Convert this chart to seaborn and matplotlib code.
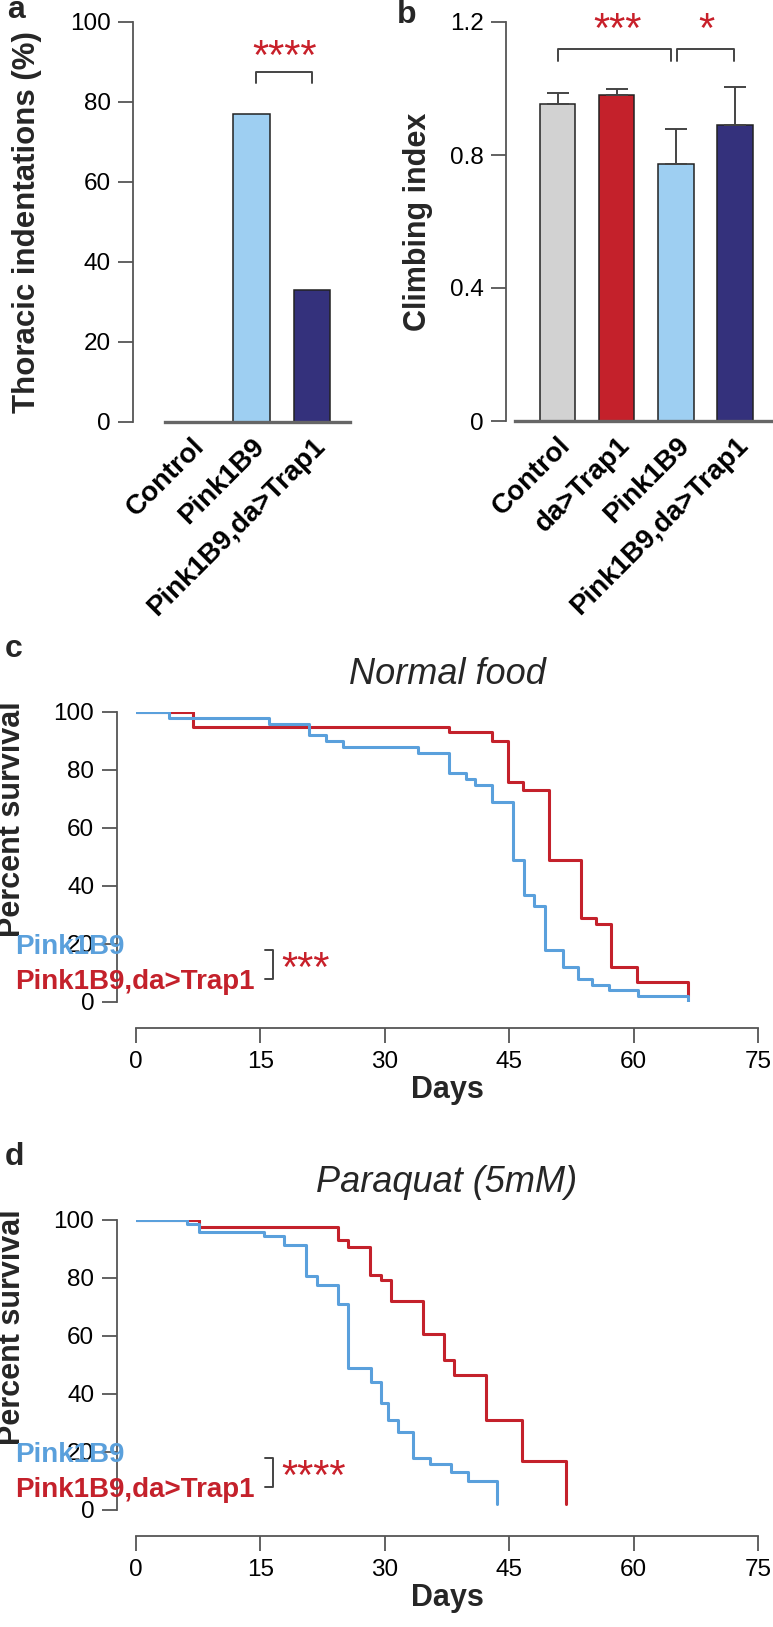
import numpy as np
import pandas as pd
import matplotlib
matplotlib.use("Agg")
import matplotlib.pyplot as plt
import seaborn as sns

# ---- data -------------------------------------------------------------
a_groups = ["Control", "Pink1B9", "Pink1B9,da>Trap1"]
a_values = [0, 77, 33]

b_groups = ["Control", "da>Trap1", "Pink1B9", "Pink1B9,da>Trap1"]
b_values = [0.952, 0.979, 0.772, 0.889]
b_err = [0.033, 0.018, 0.105, 0.117]

# Kaplan-Meier steps, normal food
c_blue_days = [0, 4.0, 16.0, 20.8, 22.9, 24.9, 34.0, 37.7, 39.8, 40.9, 42.9, 45.4,
               46.8, 48.0, 49.3, 51.5, 53.3, 55.0, 57.0, 60.5, 66.6, 66.6]
c_blue_surv = [100, 98, 96, 92, 90, 88, 86, 79, 77, 75, 69, 49,
               37, 33, 18, 12, 8, 6, 4, 2, 2, 0]
c_red_days = [0, 6.9, 37.8, 42.9, 44.8, 46.7, 49.8, 53.7, 55.5, 57.3, 60.4, 66.6, 66.6]
c_red_surv = [100, 95, 93, 90, 76, 73, 49, 29, 27, 12, 7, 7, 2]

# Kaplan-Meier steps, paraquat 5mM
d_blue_days = [0, 6.2, 7.6, 15.4, 17.8, 20.5, 21.8, 24.3, 25.6, 28.3, 29.5, 30.4,
               31.6, 33.4, 35.5, 38.0, 40.0, 43.5, 43.5]
d_blue_surv = [100, 98.7, 95.8, 94.6, 91.5, 80.6, 77.7, 71, 49, 44, 37, 31,
               27, 18, 16, 13, 10, 10, 2]
d_red_days = [0, 7.6, 24.3, 25.6, 28.2, 29.5, 30.8, 34.6, 37.1, 38.4, 42.2, 46.6, 51.8, 51.8]
d_red_surv = [100, 97.7, 93, 90.8, 81.2, 79.2, 72, 60.7, 51.7, 46.7, 31, 17, 17, 2]

day_ticks = [0, 15, 30, 45, 60, 75]
pct_ticks = [0, 20, 40, 60, 80, 100]

# ---- style ------------------------------------------------------------
sns.set_style("ticks")
plt.rcParams["font.family"] = ["Liberation Sans", "DejaVu Sans"]

LIGHT = "#9ecff2"
NAVY = "#34317c"
GREY = "#d2d2d2"
RED = "#c4212b"
CBLUE = "#5aa0dc"
STAR = "#c8202a"
AX = "#555555"

W, H = 773, 1627
fig = plt.figure(figsize=(W / 100, H / 100), dpi=100)


def rect(l, t, r, b):
    return [l / W, 1 - b / H, (r - l) / W, (b - t) / H]


def style_axis(ax):
    for s in ["top", "right"]:
        ax.spines[s].set_visible(False)
    for s in ["left", "bottom"]:
        ax.spines[s].set_color(AX)
        ax.spines[s].set_linewidth(1.3)
    ax.tick_params(axis="both", colors=AX, width=1.3, length=11,
                   labelsize=17.5, labelcolor="black", pad=5)


def bracket(ax, x0, x1, y, leg):
    ax.plot([x0, x0, x1, x1], [y - leg, y, y, y - leg], color="#444444",
            lw=1.4, clip_on=False)


# ---- panel a ------------------------------------------------------------
ax = fig.add_axes(rect(133, 22, 350, 422))
da = pd.DataFrame({"group": a_groups, "value": a_values})
sns.barplot(data=da, x="group", y="value", hue="group",
            palette=["white", LIGHT, NAVY], width=0.6, edgecolor="#222222",
            linewidth=1.1, saturation=1, legend=False, ax=ax)
style_axis(ax)
ax.set_xlim(-0.96, 2.63)
ax.set_ylim(0, 100)
ax.set_yticks(pct_ticks)
ax.spines["bottom"].set_bounds(-0.43, 2.63)
ax.spines["bottom"].set_linewidth(2.4)
ax.spines["bottom"].set_color("#666666")
ax.tick_params(axis="x", length=0, pad=8)
ax.set_xticks(range(3))
ax.set_xticklabels(a_groups, rotation=45, ha="right", rotation_mode="anchor",
                   fontsize=20, fontweight="bold")
ax.set_xlabel("")
ax.set_ylabel("Thoracic indentations (%)", fontsize=22.5, fontweight="bold", labelpad=20)
bracket(ax, 1.08, 2.0, 87.5, 2.8)
ax.text(1.54, 91, "****", color=STAR, fontsize=30, ha="center", va="center")
fig.text(7 / W, 1 - 18 / H, "a", fontsize=23, fontweight="bold")

# ---- panel b ------------------------------------------------------------
ax = fig.add_axes(rect(506, 22, 773, 421))
db = pd.DataFrame({"group": b_groups, "value": b_values})
sns.barplot(data=db, x="group", y="value", hue="group",
            palette=[GREY, RED, LIGHT, NAVY], width=0.6, edgecolor="#222222",
            linewidth=1.1, saturation=1, legend=False, ax=ax)
ax.errorbar(range(4), b_values, yerr=[np.zeros(4), b_err], fmt="none",
            ecolor="#444444", elinewidth=1.4, capsize=8, capthick=1.4, zorder=1)
style_axis(ax)
ax.set_xlim(-0.87, 3.64)
ax.set_ylim(0, 1.2)
ax.set_yticks([0, 0.4, 0.8, 1.2])
ax.set_yticklabels(["0", "0.4", "0.8", "1.2"])
ax.spines["bottom"].set_bounds(-0.72, 3.64)
ax.spines["bottom"].set_linewidth(2.4)
ax.spines["bottom"].set_color("#666666")
ax.tick_params(axis="x", length=0, pad=8)
ax.set_xticks(range(4))
ax.set_xticklabels(b_groups, rotation=45, ha="right", rotation_mode="anchor",
                   fontsize=20, fontweight="bold")
ax.set_xlabel("")
ax.set_ylabel("Climbing index", fontsize=22, fontweight="bold", labelpad=12)
bracket(ax, 0.0, 1.92, 1.119, 0.036)
bracket(ax, 2.02, 2.98, 1.119, 0.036)
ax.text(1.02, 1.172, "***", color=STAR, fontsize=30, ha="center", va="center")
ax.text(2.51, 1.172, "*", color=STAR, fontsize=30, ha="center", va="center")
fig.text(397 / W, 1 - 23 / H, "b", fontsize=23, fontweight="bold")


# ---- survival panels -------------------------------------------------------
def survival(top, letter, title, bd, bs, rd, rs, stars):
    ax = fig.add_axes(rect(136, top, 758, top + 290))
    sns.lineplot(x=rd, y=rs, drawstyle="steps-post", estimator=None, sort=False,
                 color=RED, lw=2.2, ax=ax)
    sns.lineplot(x=bd, y=bs, drawstyle="steps-post", estimator=None, sort=False,
                 color=CBLUE, lw=2.2, ax=ax)
    style_axis(ax)
    ax.spines["left"].set_position(("outward", 14))
    ax.spines["bottom"].set_position(("outward", 19))
    ax.set_xlim(0, 75)
    ax.set_ylim(0, 100)
    ax.spines["left"].set_bounds(0, 100)
    ax.set_xticks(day_ticks)
    ax.set_yticks(pct_ticks)
    ax.set_xlabel("Days", fontsize=22, fontweight="bold", labelpad=2)
    ax.set_ylabel("Percent survival", fontsize=22, fontweight="bold")
    ax.yaxis.set_label_coords(-0.175, 0.63)
    ax.set_title(title, fontsize=26, style="italic", pad=20)
    ax.text(-14.6, 19, "Pink1B9", color=CBLUE, fontsize=20, fontweight="bold",
            va="center", clip_on=False)
    ax.text(-14.6, 7, "Pink1B9,da>Trap1", color=RED, fontsize=20, fontweight="bold",
            va="center", clip_on=False)
    ax.plot([15.6, 16.5, 16.5, 15.6], [18, 18, 8, 8], color="#444444", lw=1.4,
            clip_on=False)
    ax.text(17.5, 11, stars, color=STAR, fontsize=30, va="center", clip_on=False)
    fig.text(5 / W, 1 - (top - 55) / H, letter, fontsize=23, fontweight="bold")


survival(712, "c", "Normal food", c_blue_days, c_blue_surv, c_red_days, c_red_surv, "***")
survival(1220, "d", "Paraquat (5mM)", d_blue_days, d_blue_surv, d_red_days, d_red_surv, "****")

fig.savefig("out.png", dpi=100)
